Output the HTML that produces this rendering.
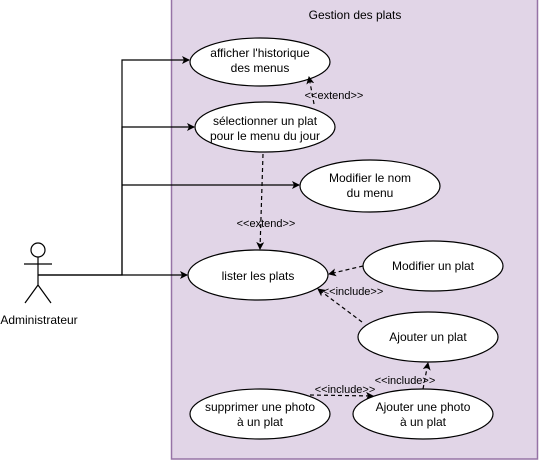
<html><body style="margin:0;background:#fff">
<svg width="539" height="461" xmlns="http://www.w3.org/2000/svg" font-family="Liberation Sans, sans-serif" font-size="12">
<defs><marker id="a" markerWidth="8" markerHeight="8" refX="7" refY="4" orient="auto" markerUnits="userSpaceOnUse"><path d="M0,0 L8,4 L0,8 L2,4z" fill="#000"/></marker></defs>
<rect x="171.5" y="-2" width="366" height="461" fill="#e1d5e7" stroke="#9673a6" stroke-width="1.5"/>
<text x="355" y="19" text-anchor="middle">Gestion des plats</text>
<g fill="#fff" stroke="#000" stroke-width="1.2">
<ellipse cx="260" cy="62" rx="70" ry="24"/>
<ellipse cx="265" cy="127" rx="70" ry="25"/>
<ellipse cx="370" cy="186" rx="70" ry="26"/>
<ellipse cx="258" cy="275" rx="70" ry="25"/>
<ellipse cx="433" cy="266" rx="70" ry="25"/>
<ellipse cx="428" cy="337" rx="70" ry="25"/>
<ellipse cx="260" cy="414" rx="70" ry="25"/>
<ellipse cx="423" cy="414" rx="70" ry="25"/>
</g>
<g text-anchor="middle">
<text x="260" y="57">afficher l'historique</text><text x="260" y="72">des menus</text>
<text x="265" y="125">sélectionner un plat</text><text x="265" y="140">pour le menu du jour</text>
<text x="370" y="182">Modifier le nom</text><text x="370" y="197">du menu</text>
<text x="258" y="280">lister les plats</text>
<text x="433" y="270">Modifier un plat</text>
<text x="428" y="341">Ajouter un plat</text>
<text x="260" y="411">supprimer une photo</text><text x="260" y="426">à un plat</text>
<text x="423" y="411">Ajouter une photo</text><text x="423" y="426">à un plat</text>
</g>
<g fill="none" stroke="#000" stroke-width="1.2">
<circle cx="38" cy="250" r="7"/>
<path d="M38,257 V285 M24,264 H52 M38,285 L25,303 M38,285 L51,303"/>
<path d="M38,275 H122 V60 H189" marker-end="url(#a)"/>
<path d="M122,275 V127 H194" marker-end="url(#a)"/>
<path d="M122,185 H299" marker-end="url(#a)"/>
<path d="M38,275 H187" marker-end="url(#a)"/>
<g stroke-dasharray="4,3">
<path d="M314,104 L309,77" marker-end="url(#a)"/>
<path d="M263,154 L260,249" marker-end="url(#a)"/>
<path d="M363,266 L329,274" marker-end="url(#a)"/>
<path d="M362,322 L318,289" marker-end="url(#a)"/>
<path d="M423,389 L428,363" marker-end="url(#a)"/>
<path d="M310,395 L373,396" marker-end="url(#a)"/>
</g></g>
<g font-size="11" text-anchor="middle">
<text x="334" y="99">&lt;&lt;extend&gt;&gt;</text>
<text x="266" y="227">&lt;&lt;extend&gt;&gt;</text>
<text x="353" y="295">&lt;&lt;include&gt;&gt;</text>
<text x="405" y="384">&lt;&lt;include&gt;&gt;</text>
<text x="345" y="393">&lt;&lt;include&gt;&gt;</text>
</g>
<text x="39" y="324" text-anchor="middle" font-size="12">Administrateur</text>
</svg>
</body></html>
